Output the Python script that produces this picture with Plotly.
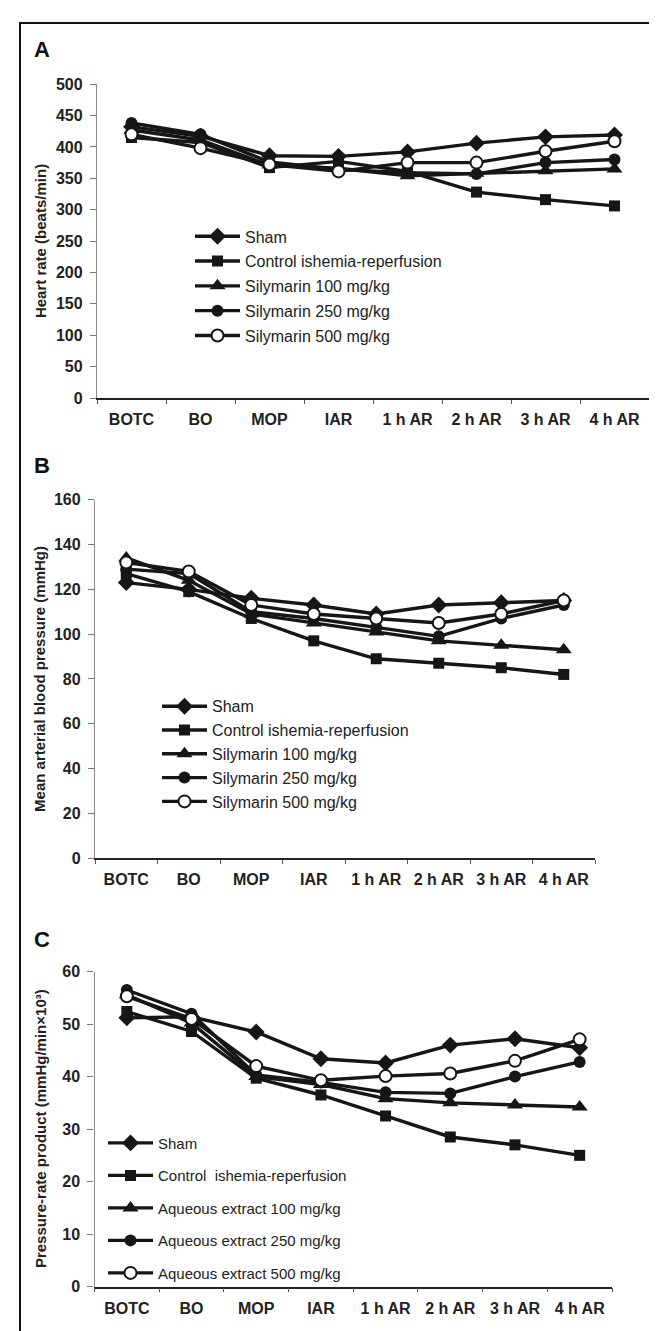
import plotly.graph_objects as go

categories = ["BOTC", "BO", "MOP", "IAR", "1 h AR", "2 h AR", "3 h AR", "4 h AR"]

names_ab = ["Sham", "Control ishemia-reperfusion", "Silymarin 100 mg/kg",
            "Silymarin 250 mg/kg", "Silymarin 500 mg/kg"]
names_c = ["Sham", "Control\u00a0 ishemia-reperfusion", "Aqueous extract 100 mg/kg",
           "Aqueous extract 250 mg/kg", "Aqueous extract 500 mg/kg"]

# Panel A: heart rate (beats/min)
hr_sham = [432, 417, 386, 385, 392, 406, 416, 419]
hr_control = [415, 407, 367, 377, 361, 328, 316, 306]
hr_sil100 = [427, 411, 371, 366, 354, 358, 362, 365]
hr_sil250 = [438, 420, 376, 364, 359, 357, 375, 380]
hr_sil500 = [420, 398, 372, 361, 375, 375, 393, 409]

# Panel B: mean arterial blood pressure (mmHg)
map_sham = [123, 120, 116, 113, 109, 113, 114, 115]
map_control = [127, 119, 107, 97, 89, 87, 85, 82]
map_sil100 = [134, 124, 109, 105, 101, 97, 95, 93]
map_sil250 = [129, 127, 110, 107, 103, 99, 107, 113]
map_sil500 = [132, 128, 113, 109, 107, 105, 109, 115]

# Panel C: pressure-rate product (mmHg/min x 10^3)
prp_sham = [51.2, 51.4, 48.5, 43.4, 42.6, 46.0, 47.2, 45.5]
prp_control = [52.4, 48.6, 39.7, 36.5, 32.5, 28.5, 27.0, 25.0]
prp_aq100 = [55.6, 50.2, 40.0, 38.5, 35.8, 35.0, 34.6, 34.2]
prp_aq250 = [56.5, 52.0, 40.3, 38.9, 37.0, 36.8, 40.0, 42.8]
prp_aq500 = [55.3, 51.0, 42.0, 39.3, 40.1, 40.6, 43.0, 47.1]

ytick_a = [0, 50, 100, 150, 200, 250, 300, 350, 400, 450, 500]
ytick_b = [0, 20, 40, 60, 80, 100, 120, 140, 160]
ytick_c = [0, 10, 20, 30, 40, 50, 60]

W, H = 657, 1331
FONT = "Liberation Sans, Arial, sans-serif"
INK = "#161616"

def px(x):
    return x / W

def py(y):
    return 1 - y / H

symbols = [
    dict(symbol="diamond", size=13, color=INK, line=dict(width=0)),
    dict(symbol="square", size=11, color=INK, line=dict(width=0)),
    dict(symbol="triangle-up", size=14, color=INK, line=dict(width=0)),
    dict(symbol="circle", size=12, color=INK, line=dict(width=0)),
    dict(symbol="circle", size=12, color="white", line=dict(width=2, color=INK)),
]

fig = go.Figure()

panels = [
    ("x", "y", "legend", names_ab, [hr_sham, hr_control, hr_sil100, hr_sil250, hr_sil500], "a"),
    ("x2", "y2", "legend2", names_ab, [map_sham, map_control, map_sil100, map_sil250, map_sil500], "b"),
    ("x3", "y3", "legend3", names_c, [prp_sham, prp_control, prp_aq100, prp_aq250, prp_aq500], "c"),
]

for xa, ya, lg, names, series, tag in panels:
    for i, (nm, vals) in enumerate(zip(names, series)):
        fig.add_trace(go.Scatter(
            x=categories, y=vals, name=nm, mode="lines+markers",
            line=dict(color=INK, width=3.4), marker=symbols[i],
            xaxis=xa, yaxis=ya, legend=lg, legendgroup=f"{tag}{i}",
        ))

def xaxis_style(x0, x1):
    return dict(
        domain=[px(x0), px(x1)], type="category",
        range=[-0.5, 7.5], showline=True, linecolor="#222", linewidth=1.6,
        ticks="outside", tickson="boundaries", ticklen=4, tickcolor="#555",
        tickwidth=1, showgrid=False, zeroline=False,
        tickfont=dict(family=FONT, size=16, color="#222", weight="bold"),
        ticklabelstandoff=6, fixedrange=True,
    )

def yaxis_style(y_top, y_bot, rng, tickvals):
    return dict(
        domain=[py(y_bot), py(y_top)], range=rng, tickvals=tickvals,
        showline=True, linecolor="#8a8a8a", linewidth=1.3,
        ticks="outside", ticklen=6, tickcolor="#777", tickwidth=1,
        showgrid=False, zeroline=False,
        tickfont=dict(family=FONT, size=16, color="#222", weight="bold"),
        ticklabelstandoff=4, fixedrange=True,
    )

layout = dict(
    width=W, height=H, margin=dict(l=0, r=0, t=0, b=0),
    paper_bgcolor="white", plot_bgcolor="rgba(0,0,0,0)",
    font=dict(family=FONT, color="#222"),
    xaxis=xaxis_style(89, 641) | dict(anchor="y"),
    yaxis=yaxis_style(69, 387, [0, 500], ytick_a) | dict(anchor="x"),
    xaxis2=xaxis_style(87, 587) | dict(anchor="y2"),
    yaxis2=yaxis_style(490, 853, [0, 160], ytick_b) | dict(anchor="x2"),
    xaxis3=xaxis_style(86.5, 604) | dict(anchor="y3"),
    yaxis3=yaxis_style(968, 1287, [0, 60], ytick_c) | dict(anchor="x3"),
)

def legend_style(x, y, gap, size, bg):
    return dict(
        x=px(x), y=py(y), xanchor="left", yanchor="top",
        bgcolor=bg, borderwidth=0, tracegroupgap=gap,
        font=dict(family=FONT, size=size, color="#222"),
        itemwidth=45, traceorder="grouped",
    )

layout["legend"] = legend_style(182, 206, 1, 16, "white")
layout["legend2"] = legend_style(149, 682, 0, 16, "white")
layout["legend3"] = legend_style(95, 1125, 10, 15, "rgba(0,0,0,0)")

annotations = []
for letter, yy in [("A", 34), ("B", 455), ("C", 935)]:
    annotations.append(dict(
        text=letter, x=px(24), y=py(yy), xref="paper", yref="paper",
        xanchor="left", yanchor="middle", showarrow=False,
        font=dict(family=FONT, size=22, color="#111", weight="bold"),
    ))
for title, yc in [("Heart rate (beats/min)", (69 + 387) / 2),
                  ("Mean arterial blood pressure (mmHg)", (490 + 853) / 2),
                  ("Pressure-rate product (mmHg/min×10³)", (968 + 1287) / 2)]:
    annotations.append(dict(
        text=title, x=px(32), y=py(yc), xref="paper", yref="paper",
        xanchor="center", yanchor="middle", showarrow=False, textangle=-90,
        font=dict(family=FONT, size=15, color="#222", weight="bold"),
    ))
layout["annotations"] = annotations

layout["shapes"] = [dict(
    type="rect", xref="paper", yref="paper",
    x0=px(12), x1=px(650), y0=-0.01, y1=py(7),
    line=dict(color="#111", width=2), fillcolor="rgba(0,0,0,0)", layer="below",
)]

fig.update_layout(**layout)
fig.write_html("out.html", config={"displayModeBar": False})
